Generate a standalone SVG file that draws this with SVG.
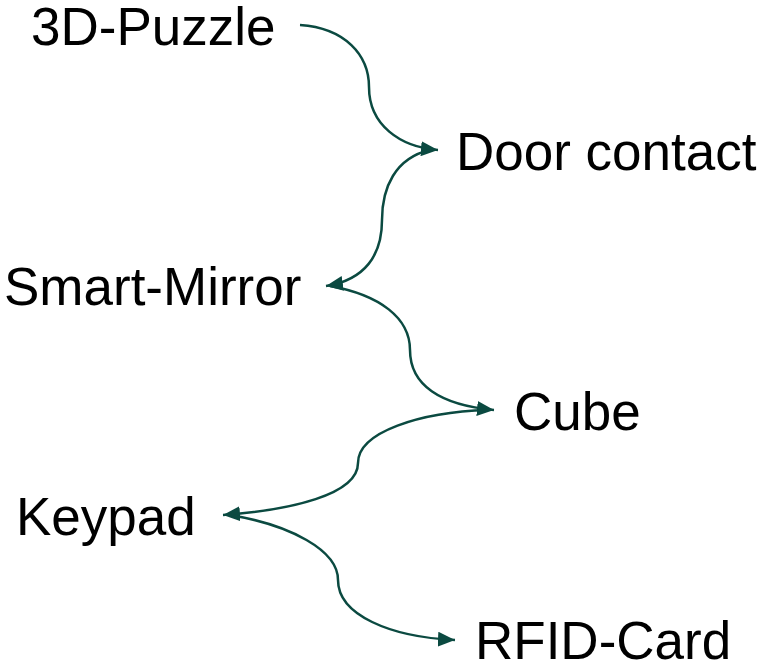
<svg xmlns="http://www.w3.org/2000/svg" width="763" height="664" viewBox="0 0 763 664">
<style>
.lbl{font-family:"Liberation Sans",Arial,sans-serif;font-size:53px;fill:#000}
.conn path{fill:none;stroke:#0b4a41;stroke-width:2.5}
</style>
<defs>
<marker id="arr" markerUnits="userSpaceOnUse" markerWidth="18" markerHeight="15" refX="17" refY="7.5" orient="auto">
<path d="M0,0 L17,7.5 L0,15 Z" fill="#0b4a41"/>
</marker>
</defs>
<rect width="763" height="664" fill="#fff"/>
<g class="conn" id="connectors">
<path d="M300,25 C345,28 369,55 369,87 C369,125 400,147 438,150" marker-end="url(#arr)"/>
<path d="M430,150 C395,158 382,188 382,220 C382,255 365,280 326,286" marker-end="url(#arr)"/>
<path d="M330,286 C380,295 410,318 410,350 C410,385 440,405 494,410" marker-end="url(#arr)"/>
<path d="M488,410 C420,412 358,432 358,463 C358,495 290,510 223,515" marker-end="url(#arr)"/>
<path d="M230,515 C290,525 338,550 338,580 C338,615 390,637 455,640" marker-end="url(#arr)"/>
</g>
<g id="n1"><text class="lbl" x="31" y="45">3D-Puzzle</text></g>
<g id="n2"><text class="lbl" x="456" y="170">Door contact</text></g>
<g id="n3"><text class="lbl" x="4" y="305">Smart-Mirror</text></g>
<g id="n4"><text class="lbl" x="514" y="430">Cube</text></g>
<g id="n5"><text class="lbl" x="16" y="535">Keypad</text></g>
<g id="n6"><text class="lbl" x="475" y="659">RFID-Card</text></g>
</svg>
